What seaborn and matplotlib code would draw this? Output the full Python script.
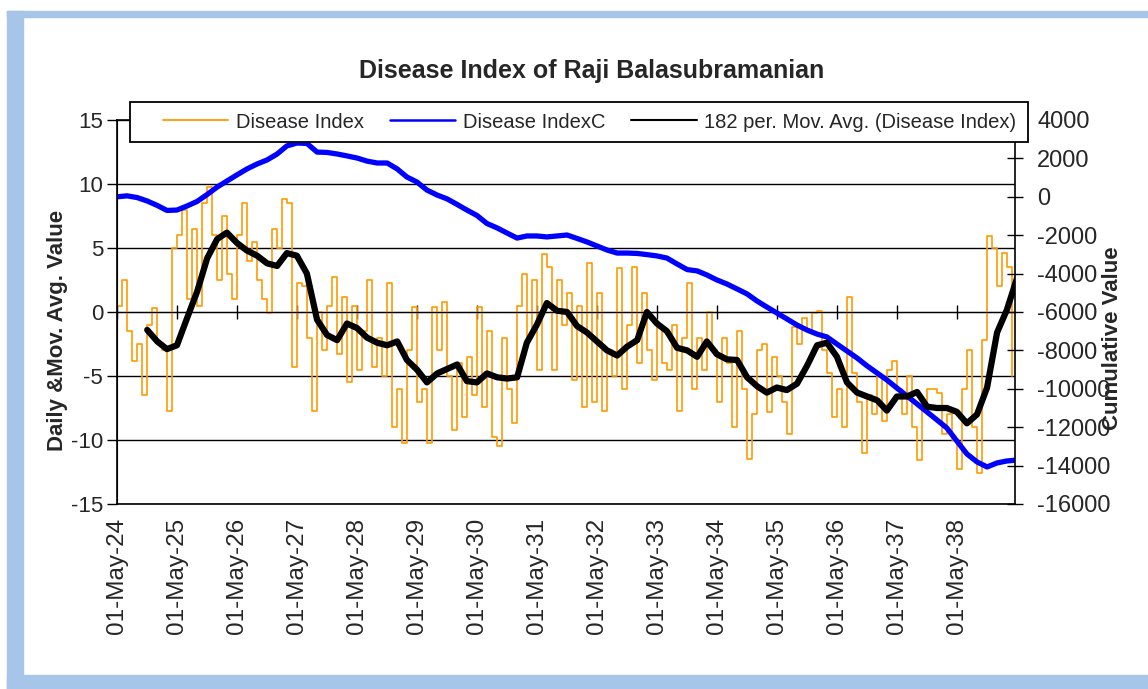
import seaborn as sns
import matplotlib.pyplot as plt
import matplotlib.dates as mdates
from matplotlib.lines import Line2D
from matplotlib.patches import Rectangle
import pandas as pd

# Disease Index, one reading per month
daily_start = "2024-05-01"
daily_values = [
    0.5, 2.5, -1.5, -3.8, -2.5, -6.5, -1.0, 0.3, -2.5, -3.0,
    -7.7, 5.0, 6.0, 8.0, 1.0, 6.5, 0.5, 8.5, 9.8, 6.0,
    2.5, 7.5, 3.0, 1.0, 6.0, 8.5, 4.0, 5.5, 2.5, 1.0,
    -0.1, 6.5, 5.0, 8.8, 8.5, -4.3, 2.3, 2.0, -2.0, -7.7,
    0.0, -3.0, 0.5, 2.7, -3.3, 1.2, -5.5, 0.5, -4.5, -1.5,
    2.5, -4.3, -2.0, -5.0, 2.3, -9.0, -6.0, -10.2, -3.0, 0.4,
    -7.0, -6.0, -10.2, 0.4, -3.0, 0.8, -5.0, -9.2, -4.0, -8.2,
    -3.5, -6.5, 0.4, -7.4, -1.5, -9.8, -10.5, -2.0, -6.0, -8.7,
    0.5, 3.0, -2.0, 2.5, -4.5, 4.5, 3.5, -4.5, 2.5, -1.0,
    1.5, -5.3, 0.5, -7.4, 3.8, -7.0, 1.5, -7.7, -3.0, -5.0,
    3.4, -6.0, -1.0, 3.5, -4.0, 1.5, -3.0, -5.3, -1.0, -4.0,
    -4.5, -1.0, -7.7, -2.0, 2.3, -6.0, -2.0, -4.5, 0.0, -3.0,
    -7.0, -2.0, -4.0, -9.0, -1.5, -6.0, -11.5, -8.0, -3.0, -2.5,
    -7.8, -3.5, -5.0, -7.0, -9.5, -1.2, -2.5, -0.5, -1.5, -0.1,
    0.1, -3.0, -4.8, -8.2, -6.0, -9.0, 1.2, -4.8, -7.0, -11.0,
    -6.5, -8.0, -5.0, -8.5, -4.5, -3.8, -6.0, -8.0, -5.0, -9.0,
    -11.6, -7.0, -6.0, -6.0, -6.3, -9.5, -8.0, -10.0, -12.3, -6.0,
    -3.0, -9.0, -12.6, -2.2, 5.9, 5.0, 2.0, 4.6, 3.5, -5.0,
]

# Disease IndexC (cumulative), every two months
cum_start = "2024-05-01"
cum_values = [
    0, 50, -40, -220, -450, -710, -690, -480, -240, 120,
    510, 820, 1140, 1450, 1710, 1920, 2230, 2650, 2800, 2780,
    2330, 2310, 2230, 2130, 2020, 1860, 1760, 1760, 1450, 1030,
    770, 350, 90, -110, -400, -690, -970, -1390, -1620, -1890,
    -2150, -2040, -2040, -2090, -2040, -1990, -2170, -2350, -2560, -2770,
    -2930, -2930, -2950, -3010, -3080, -3190, -3500, -3790, -3860, -4070,
    -4330, -4540, -4800, -5060, -5430, -5740, -6050, -6360, -6680, -6940,
    -7150, -7300, -7670, -8030, -8400, -8810, -9180, -9540, -9960, -10370,
    -10790, -11210, -11630, -12040, -12720, -13390, -13810, -14070, -13860, -13760,
    -13710,
]

# 182 per. moving average, every two months
mavg_start = "2024-11-01"
mavg_values = [
    -1.4, -2.3, -2.9, -2.6, -0.5, 1.6, 4.2, 5.7, 6.2, 5.4,
    4.8, 4.4, 3.8, 3.6, 4.6, 4.4, 3.0, -0.6, -1.8, -2.2,
    -0.9, -1.25, -2.0, -2.4, -2.6, -2.3, -3.75, -4.5, -5.5, -4.8,
    -4.45, -4.1, -5.4, -5.5, -4.8, -5.1, -5.2, -5.1, -2.4, -1.0,
    0.7, 0.1, 0.0, -1.1, -1.6, -2.3, -3.0, -3.4, -2.7, -2.2,
    0.0, -0.9, -1.5, -2.8, -3.0, -3.5, -2.3, -3.3, -3.7, -3.75,
    -5.1, -5.8, -6.3, -5.9, -6.1, -5.6, -4.2, -2.6, -2.4, -3.5,
    -5.5, -6.3, -6.6, -6.9, -7.7, -6.6, -6.6, -6.25, -7.4, -7.5,
    -7.5, -7.8, -8.7, -8.0, -5.9, -1.6, 0.15, 2.6,
]

left_ticks = [-15, -10, -5, 0, 5, 10, 15]
right_ticks = [-16000, -14000, -12000, -10000, -8000, -6000, -4000, -2000, 0, 2000, 4000]
x_start, x_end = "2024-05-01", "2039-04-20"
labels = ["Disease Index", "Disease IndexC", "182 per. Mov. Avg. (Disease Index)"]

df_daily = pd.DataFrame({"date": pd.date_range(daily_start, periods=len(daily_values), freq="MS"),
                         "value": daily_values})
df_cum = pd.DataFrame({"date": pd.date_range(cum_start, periods=len(cum_values), freq="2MS"),
                       "value": cum_values})
df_avg = pd.DataFrame({"date": pd.date_range(mavg_start, periods=len(mavg_values), freq="2MS"),
                       "value": mavg_values})

sns.set_style("white")
plt.rcParams['font.family'] = ['Liberation Sans', 'DejaVu Sans']
plt.rcParams['axes.unicode_minus'] = False

W, H = 1148, 689
fig = plt.figure(figsize=(W / 100, H / 100), dpi=100)


def px_box(x0, y0, x1, y1):
    # pixel box (top-left origin) -> figure fraction rect
    return (x0 / W, 1 - y1 / H), (x1 - x0) / W, (y1 - y0) / H


# light blue frame around the chart
band = "#a7c4e9"
for box in [(7, 11, W, 17), (7, 11, 23, 689), (7, 675, W, 689)]:
    xy, w, h = px_box(*box)
    fig.patches.append(Rectangle(xy, w, h, transform=fig.transFigure, color=band, zorder=0))

ax = fig.add_axes([117 / W, 185 / H, 898 / W, 384 / H])
ax2 = ax.twinx()
ax3 = ax.twinx()

sns.lineplot(data=df_daily, x="date", y="value", ax=ax, color="#ff9900", lw=1.2,
             drawstyle="steps-post", legend=False)
sns.lineplot(data=df_cum, x="date", y="value", ax=ax2, color="#0000ff", lw=3.8, legend=False)
sns.lineplot(data=df_avg, x="date", y="value", ax=ax3, color="black", lw=4.5, legend=False)

xlim = (pd.Timestamp(x_start), pd.Timestamp(x_end))
ax.set_xlim(xlim)
ax.set_ylim(-15, 15)
ax3.set_ylim(-15, 15)
ax2.set_ylim(-16000, 4000)

# left axis + grid
ax.set_yticks(left_ticks)
ax.yaxis.grid(True, color="black", lw=1.0)
ax.set_xlabel("")
ax.set_ylabel("")
for s in ["top", "right"]:
    ax.spines[s].set_visible(False)
ax.spines["left"].set_color("black")
ax.spines["bottom"].set_position(("data", 0))
ax.spines["bottom"].set_color("black")
ax.tick_params(axis="y", direction="out", length=7, width=1, color="black", pad=3, labelsize=16)

# x axis: ticks on the zero line, labels below the plot
ax.xaxis.set_major_locator(mdates.YearLocator(base=1, month=5, day=1))
ax.xaxis.set_major_formatter(mdates.DateFormatter("%d-%b-%y"))
ax.tick_params(axis="x", direction="inout", length=10, width=1, color="black",
               pad=143, labelrotation=90, labelsize=17.5, bottom=True)

# right axis
ax2.set_yticks(right_ticks)
ax2.set_ylabel("")
ax2.tick_params(axis="y", direction="inout", length=12, width=1, color="black", pad=10, labelsize=17)
for s in ax2.spines.values():
    s.set_color("black")
    s.set_linewidth(1.2)

ax3.set_ylabel("")
ax3.yaxis.set_visible(False)
for s in ax3.spines.values():
    s.set_visible(False)

fig.text(592 / W, 1 - 71 / H, "Disease Index of Raji Balasubramanian",
         ha="center", va="center", fontsize=18, fontweight="bold")
fig.text(57 / W, 1 - 330 / H, "Daily &Mov. Avg. Value", rotation=90,
         ha="center", va="center", fontsize=16, fontweight="bold")
fig.text(1113 / W, 1 - 338 / H, "Cumulative Value", rotation=90,
         ha="center", va="center", fontsize=16, fontweight="bold")

# legend box (white, drawn over the top of the plot)
xy, w, h = px_box(130, 102, 1028, 142)
fig.patches.append(Rectangle(xy, w, h, transform=fig.transFigure, facecolor="white",
                             edgecolor="black", lw=1.3, zorder=4))
handles = [Line2D([], [], color="#ff9900", lw=1.3),
           Line2D([], [], color="#0000ff", lw=1.8),
           Line2D([], [], color="black", lw=1.5)]
leg = fig.legend(handles, labels, loc="center", bbox_to_anchor=(589.5 / W, 1 - 122 / H), ncol=3,
                 fontsize=14.5, frameon=False, handlelength=3.25, handletextpad=0.36,
                 columnspacing=1.3, borderpad=0.43)
leg.set_zorder(5)

fig.savefig("out.png", dpi=100)
